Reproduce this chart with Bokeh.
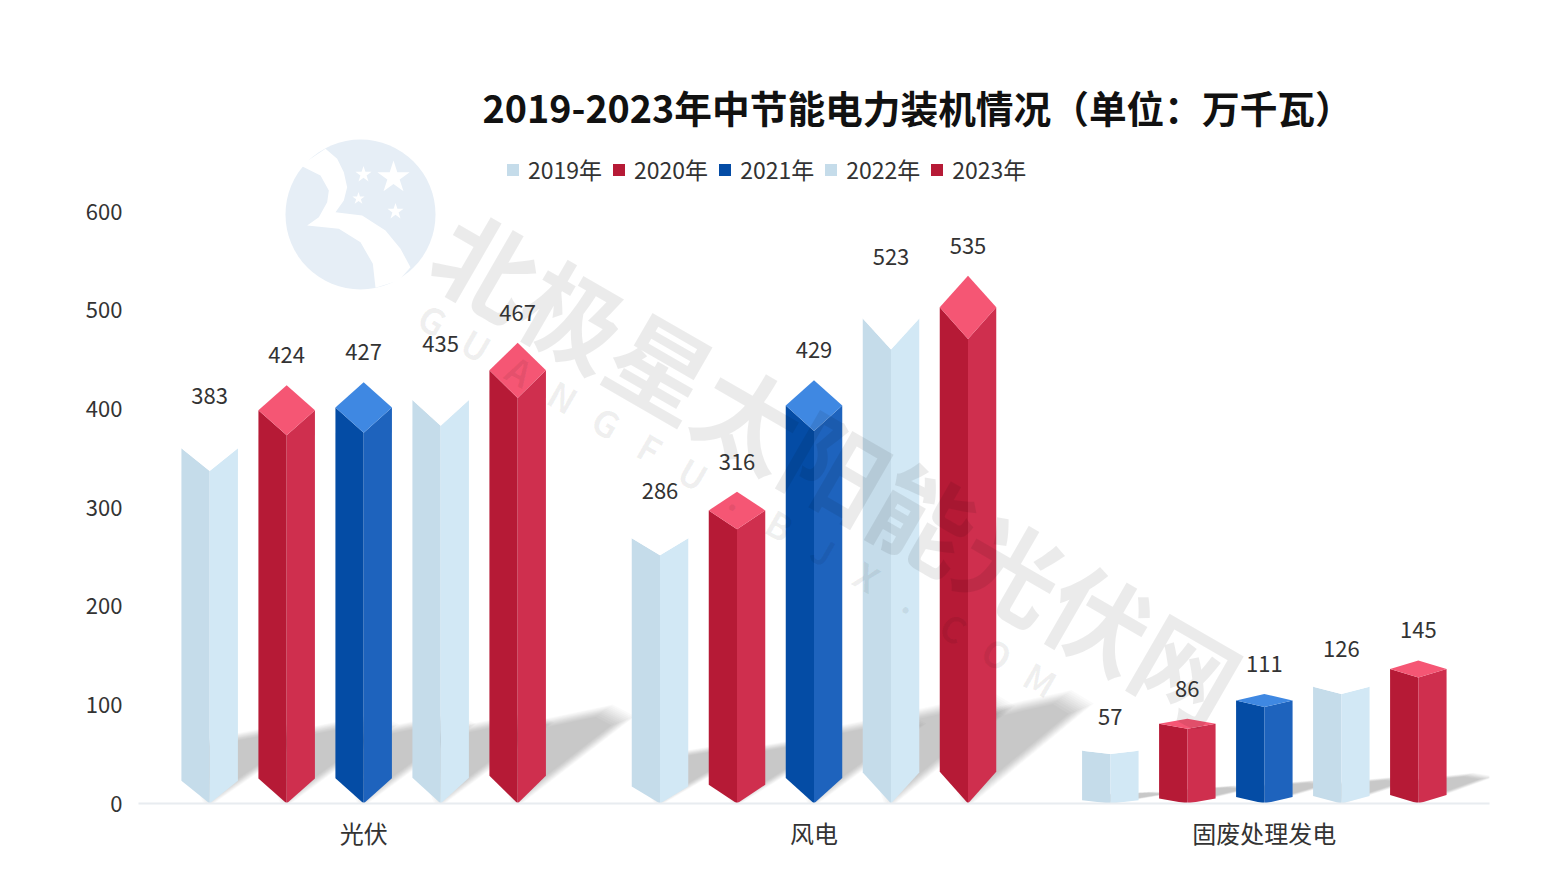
from bokeh.plotting import figure
from bokeh.models import FixedTicker, Range1d, Legend, LegendItem
from bokeh.core.properties import value
from bokeh.embed import file_html
from bokeh.resources import INLINE
import math

categories = ["光伏", "风电", "固废处理发电"]
years = ["2019年", "2020年", "2021年", "2022年", "2023年"]
v2019 = [383, 286, 57]
v2020 = [424, 316, 86]
v2021 = [427, 429, 111]
v2022 = [435, 523, 126]
v2023 = [467, 535, 145]
y_ticks = [0, 100, 200, 300, 400, 500, 600]
title_text = "2019-2023年中节能电力装机情况（单位：万千瓦）"
watermark_cn = "北极星太阳能光伏网"
watermark_en = "GUANGFU.BJX.COM"

series = [v2019, v2020, v2021, v2022, v2023]
LIGHT = ("#C5DCEA", "#D2E8F5", "#FFFFFF")
RED = ("#B61A36", "#CF2F4E", "#F55674")
BLUE = ("#044CA5", "#1E63BD", "#3F88E2")
palette = [LIGHT, RED, BLUE, LIGHT, RED]

FONT = "Noto Sans CJK SC"
W, H = 1532, 880
FL, FR, FT, FB = 138, 1489, 135, 803
UX = (FR - FL) / 3.0
UY = 592 / 600.0


def X(px):
    return (px - FL) / UX


def Y(py):
    return (FB - py) / UY


p = figure(width=W, height=H, output_backend="svg", toolbar_location=None,
           x_range=Range1d(0, 3), y_range=Range1d(0, Y(FT)),
           min_border_left=FL, min_border_right=W - FR,
           min_border_top=FT, min_border_bottom=H - FB,
           background_fill_color="white", border_fill_color="white")
p.outline_line_color = None
p.grid.visible = False

p.title.text = title_text
p.title.align = "left"
p.title.offset = 344
p.title.text_font = FONT
p.title.text_font_size = "37.7px"
p.title.text_font_style = "bold"
p.title.text_color = "#111111"
p.title.standoff = 3

p.yaxis.ticker = FixedTicker(ticks=y_ticks)
p.yaxis.axis_line_color = None
p.yaxis.major_tick_line_color = None
p.yaxis.minor_tick_line_color = None
p.yaxis.major_label_text_font = FONT
p.yaxis.major_label_text_font_size = "22px"
p.yaxis.major_label_text_color = "#333333"
p.yaxis.major_label_standoff = 10

tick_pos = [i + 0.5 for i in range(len(categories))]
p.xaxis.ticker = FixedTicker(ticks=tick_pos)
p.xaxis.major_label_overrides = {t: c for t, c in zip(tick_pos, categories)}
p.xaxis.axis_line_color = "#E8ECF0"
p.xaxis.axis_line_width = 2
p.xaxis.major_tick_line_color = None
p.xaxis.minor_tick_line_color = None
p.xaxis.major_label_text_font = FONT
p.xaxis.major_label_text_font_size = "24px"
p.xaxis.major_label_text_color = "#333333"
p.xaxis.major_label_standoff = 5

# logo watermark
p.ellipse(x=[X(360)], y=[Y(214)], width=[150 / UX], height=[150 / UY],
          fill_color="#E6EEF6", line_color=None)
zx = lambda z: 275 + z / 3.0
zy = lambda z: 130 + z / 3.0
swoosh = [(75, 105), (150, 55), (185, 85), (205, 125), (215, 170), (205, 210), (180, 245),
          (260, 255), (330, 300), (375, 355), (405, 410), (370, 450), (300, 472),
          (292, 400), (255, 335), (190, 295), (95, 285), (130, 260), (155, 215),
          (160, 180), (135, 135)]
p.patch([X(zx(a)) for a, _ in swoosh], [Y(zy(b)) for _, b in swoosh],
        fill_color="white", line_color=None)
p.scatter(x=[X(393), X(363), X(358), X(395)], y=[Y(177), Y(174), Y(198), Y(211)],
          size=[34, 17, 13, 17], marker="star", fill_color="white", line_color=None)

DEPTH = 0.06
HALF = 28.25 / UX
STEP = 77 / UX


def centre(cat, s):
    return cat + 0.5 + (s - 2) * STEP


# soft shadows: stacked translucent layers
for scale in (1.12, 1.09, 1.06, 1.03, 1.0, 0.97, 0.94, 0.91, 0.88, 0.84, 0.8):
    xs, ys = [], []
    for s, vals in enumerate(series):
        for c, v in enumerate(vals):
            cx = centre(c, s)
            dx = 50 + 0.115 * v
            pts = [(0, 0), (dx + 5, 0.182 * v), (dx - 15, 0.205 * v), (-10, 0.16 * v), (-10, DEPTH * v)]
            mx = sum(a for a, _ in pts) / len(pts)
            my = sum(b for _, b in pts) / len(pts)
            xs.append([cx + (mx + (a - mx) * scale) / UX for a, _ in pts])
            ys.append([my + (b - my) * scale for _, b in pts])
    p.patches(xs, ys, fill_color="#000000", fill_alpha=0.02, line_color=None)

# bars
legend_items = []
for s, vals in enumerate(series):
    left_x, left_y, right_x, right_y, top_x, top_y = [], [], [], [], [], []
    for c, v in enumerate(vals):
        cx = centre(c, s)
        d = DEPTH * v
        left_x.append([cx - HALF, cx, cx, cx - HALF])
        left_y.append([d, 0, v - 2 * d, v - d])
        right_x.append([cx, cx + HALF, cx + HALF, cx])
        right_y.append([0, d, v - d, v - 2 * d])
        top_x.append([cx - HALF, cx, cx + HALF, cx])
        top_y.append([v - d, v, v - d, v - 2 * d])
    cl, cr, ct = palette[s]
    r_left = p.patches(left_x, left_y, fill_color=cl, line_color=None)
    p.patches(right_x, right_y, fill_color=cr, line_color=None)
    p.patches(top_x, top_y, fill_color=ct, line_color=None)
    legend_items.append(LegendItem(label=years[s], renderers=[r_left]))

# text watermark (not 100px: the svg font parser fails on "bold 100px")
ANG = -math.radians(30)
p.text(x=[X(838)], y=[Y(464)], text=[watermark_cn], angle=[ANG], text_font=value(FONT),
       text_font_style="bold", text_font_size="101px", text_align="center",
       text_baseline="middle", text_color="#000000", text_alpha=0.08)
n = len(watermark_en)
p.text(x=[X(433 + i * 43.4) for i in range(n)], y=[Y(318 + i * 25.7) for i in range(n)],
       text=list(watermark_en), angle=[ANG] * n, text_font=value(FONT), text_font_size="36px",
       text_font_style="bold", text_align="center", text_baseline="middle",
       text_color="#000000", text_alpha=0.06)

# data labels
lx, ly, lt = [], [], []
for s, vals in enumerate(series):
    for c, v in enumerate(vals):
        lx.append(centre(c, s))
        ly.append(v)
        lt.append(str(v))
p.text(x=lx, y=ly, text=lt, text_font=value(FONT), text_font_size="22px", text_align="center",
       text_baseline="middle", y_offset=-30, text_color="#333333")

legend = Legend(items=legend_items, orientation="horizontal", location=(505 - FL, FB - 186),
                glyph_width=15, glyph_height=15, label_standoff=8, spacing=9, margin=0, padding=0,
                label_text_font=FONT, label_text_font_size="23px", label_text_color="#333333",
                background_fill_alpha=0, border_line_color=None)
p.add_layout(legend, "center")

open("out.html", "w").write(file_html(p, INLINE))
